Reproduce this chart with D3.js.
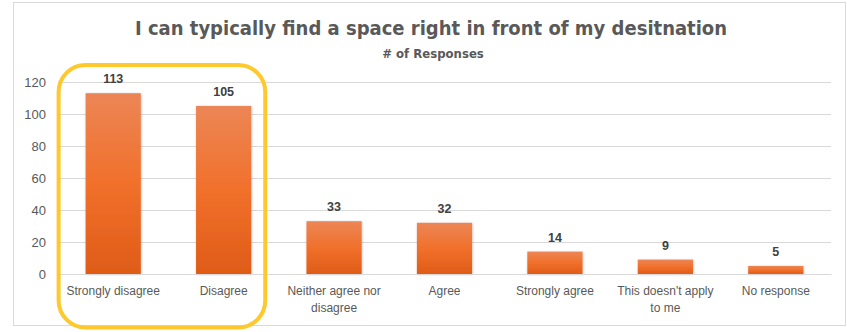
<!DOCTYPE html>
<html>
<head>
<meta charset="utf-8">
<script src="https://cdn.jsdelivr.net/npm/d3@7"></script>
<style>
  html, body { margin: 0; padding: 0; background: #ffffff; }
  svg { display: block; }
</style>
</head>
<body>
<svg id="chart" width="847" height="332"></svg>
<script>
const titleText = "I can typically find a space right in front of my desitnation";
const subtitleText = "# of Responses";
const categories = [
  ["Strongly disagree"],
  ["Disagree"],
  ["Neither agree nor", "disagree"],
  ["Agree"],
  ["Strongly agree"],
  ["This doesn't apply", "to me"],
  ["No response"]
];
const values = [113, 105, 33, 32, 14, 9, 5];
const yTicks = [0, 20, 40, 60, 80, 100, 120];
const highlighted = [0, 1];

const svg = d3.select("#chart");
const plot = { left: 58, right: 831, top: 82, bottom: 274 };

// chart frame
svg.append("rect")
  .attr("x", 13.5).attr("y", 2.5)
  .attr("width", 832).attr("height", 323)
  .attr("fill", "#ffffff")
  .attr("stroke", "#d9d9d9").attr("stroke-width", 1);

const defs = svg.append("defs");
const grad = defs.append("linearGradient")
  .attr("id", "barGrad").attr("x1", 0).attr("y1", 0).attr("x2", 0).attr("y2", 1);
grad.append("stop").attr("offset", "0%").attr("stop-color", "#EC8656");
grad.append("stop").attr("offset", "50%").attr("stop-color", "#F1702B");
grad.append("stop").attr("offset", "100%").attr("stop-color", "#DF5C18");

const shadow = defs.append("filter").attr("id", "shadow")
  .attr("x", "-20%").attr("y", "-20%").attr("width", "140%").attr("height", "140%");
shadow.append("feDropShadow").attr("dx", 0.5).attr("dy", 0.5)
  .attr("stdDeviation", 1.2).attr("flood-color", "#000").attr("flood-opacity", 0.25);

const x = d3.scaleBand()
  .domain(categories.map((d, i) => i))
  .range([plot.left, plot.right])
  .paddingInner(0.5).paddingOuter(0.25);

const y = d3.scaleLinear().domain([0, 120]).range([plot.bottom, plot.top]);

// gridlines
const yAxis = d3.axisLeft(y).tickValues(yTicks).tickSize(-(plot.right - plot.left)).tickPadding(12);
const gy = svg.append("g").attr("transform", `translate(${plot.left},0)`).call(yAxis);
gy.select(".domain").remove();
gy.selectAll(".tick line").attr("stroke", "#d9d9d9").attr("stroke-width", 1);
gy.selectAll(".tick text")
  .attr("fill", "#595959")
  .style("font-family", "'Liberation Sans', Arial, sans-serif")
  .style("font-size", "13px");

// bars
svg.append("g").selectAll("rect").data(values).join("rect")
  .attr("x", (d, i) => x(i))
  .attr("y", d => y(d))
  .attr("width", x.bandwidth())
  .attr("height", d => y(0) - y(d))
  .attr("fill", "url(#barGrad)")
  .attr("filter", "url(#shadow)");

// data labels
svg.append("g").selectAll("text").data(values).join("text")
  .attr("x", (d, i) => x(i) + x.bandwidth() / 2)
  .attr("y", d => y(d) - 10)
  .attr("text-anchor", "middle")
  .attr("fill", "#404040")
  .style("font-family", "'Liberation Sans', Arial, sans-serif")
  .style("font-size", "12.5px")
  .style("font-weight", "bold")
  .text(d => d);

// category labels
const xAxis = d3.axisBottom(x).tickSize(0).tickFormat(() => "");
const gx = svg.append("g").attr("transform", `translate(0,${plot.bottom})`).call(xAxis);
gx.select(".domain").attr("stroke", "#d9d9d9");
gx.selectAll(".tick").each(function(i) {
  const t = d3.select(this).select("text")
    .attr("y", 0).attr("dy", null)
    .attr("fill", "#595959")
    .style("font-family", "'Liberation Sans', Arial, sans-serif")
    .style("font-size", "12px");
  categories[i].forEach((line, k) => {
    t.append("tspan").attr("x", 0).attr("y", 21 + k * 17).text(line);
  });
});

// title
svg.append("text")
  .attr("x", 431).attr("y", 35)
  .attr("text-anchor", "middle")
  .attr("fill", "#595959")
  .style("font-family", "'DejaVu Sans Condensed', 'Liberation Sans Narrow', Arial, sans-serif")
  .style("font-size", "20px")
  .style("font-weight", "bold")
  .text(titleText);

svg.append("text")
  .attr("x", 433).attr("y", 58)
  .attr("text-anchor", "middle")
  .attr("fill", "#595959")
  .style("font-family", "'DejaVu Sans Condensed', 'Liberation Sans Narrow', Arial, sans-serif")
  .style("font-size", "13px")
  .style("font-weight", "bold")
  .text(subtitleText);

// highlight box
const hx0 = x(highlighted[0]) - 27;
const hx1 = x(highlighted[highlighted.length - 1]) + x.bandwidth() + 14;
svg.append("rect")
  .attr("x", hx0).attr("y", 65)
  .attr("width", hx1 - hx0).attr("height", 262.5)
  .attr("rx", 27).attr("ry", 27)
  .attr("fill", "none")
  .attr("stroke", "#FFC82C").attr("stroke-width", 4);
</script>
</body>
</html>
